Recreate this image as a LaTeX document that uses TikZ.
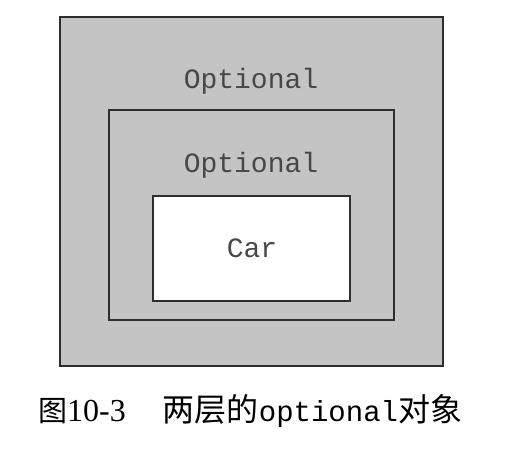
\documentclass[tikz,border=0pt]{standalone}
\usepackage{fontspec}
\setmainfont{Liberation Serif}
\setmonofont{Liberation Mono}
\newfontfamily\cjk{Noto Sans CJK SC}
\definecolor{boxgray}{RGB}{196,196,196}
\definecolor{edgecol}{RGB}{45,45,45}
\begin{document}
\begin{tikzpicture}[x=1pt,y=-1pt,
  layer/.style={draw=edgecol,line width=1.8pt,fill=boxgray},
  core/.style={draw=edgecol,line width=1.8pt,fill=white},
  label/.style={font=\fontsize{28}{30}\selectfont\ttfamily,text=black!72,anchor=base,inner sep=0pt}]
\useasboundingbox (0,0) rectangle (508,450);
\draw[layer] (60,17) rectangle (443,366);
\node[label] (t1) at (251,88) {Optional};
\draw[layer] (109,110) rectangle (394,320);
\node[label] (t2) at (251,172) {Optional};
\draw[core] (153,196) rectangle (350,301);
\node[label] (t3) at (252,257) {Car};
\node[anchor=base west,inner sep=0pt,font=\fontsize{32}{34}\selectfont] (cap) at (38,421)
  {{\cjk\fontsize{29}{30}\selectfont 图}10-3\hspace{37pt}{\cjk\fontsize{32}{30}\selectfont 两层的}{\ttfamily\fontsize{29}{30}\selectfont optional}{\cjk\fontsize{32}{30}\selectfont 对象}};
\end{tikzpicture}
\end{document}
